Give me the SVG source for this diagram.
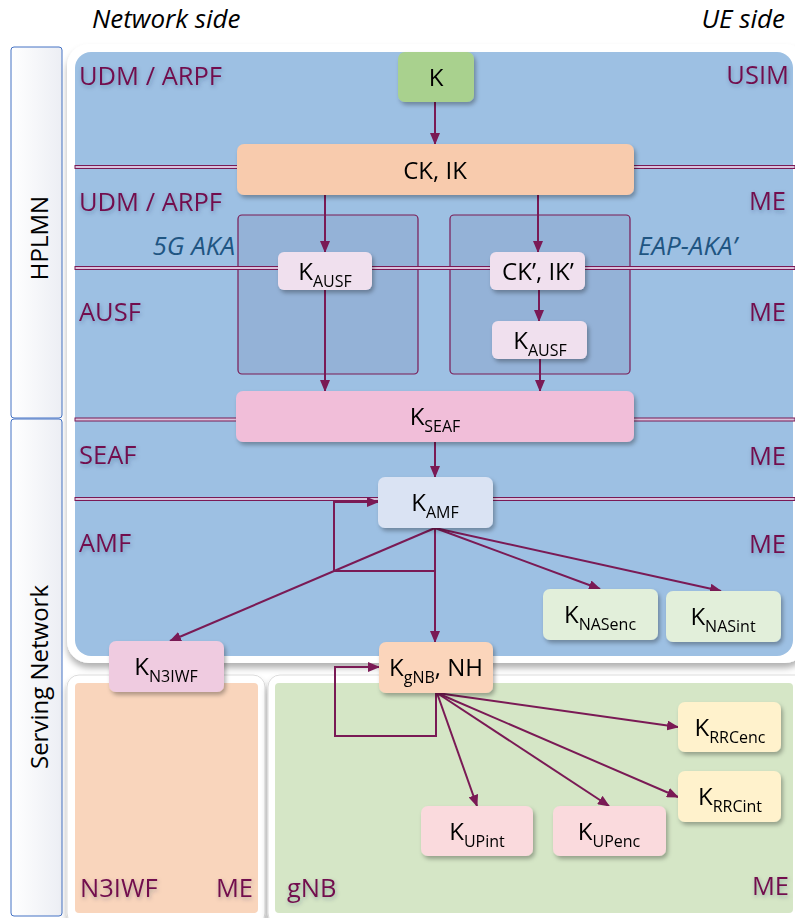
<svg xmlns="http://www.w3.org/2000/svg" width="795" height="918" viewBox="0 0 795 918">
<defs>
<style>
text{font-family:"Open Sans","Liberation Sans",sans-serif;}
.lbl{font-size:25.5px;fill:#72114e;filter:url(#tsh);}
.hdr{font-size:26px;font-style:italic;fill:#000;}
.aka{font-size:26px;font-style:italic;fill:#1f5582;}
.side{font-size:24px;fill:#000;}
.nt{font-size:24px;fill:#000;text-anchor:middle;}
.sub{font-size:16px;}
.sep{fill:#d9c2dc;stroke:#7a1a55;stroke-width:1;}
.node{filter:url(#nsh);}
.con{fill:none;stroke:#7a1a55;stroke-width:2;}
.arr{marker-end:url(#ah);}
.akab{fill:#8ea8cf;fill-opacity:0.6;stroke:#7a1a55;stroke-width:1.2;}
</style>
<marker id="ah" markerUnits="userSpaceOnUse" markerWidth="12" markerHeight="10" refX="11" refY="5" orient="auto">
<path d="M0,0 L12,5 L0,10 z" fill="#7a1a55"/>
</marker>
<filter id="fsh" x="-5%" y="-5%" width="110%" height="115%">
<feDropShadow dx="0" dy="5" stdDeviation="3" flood-color="#000" flood-opacity="0.3"/>
</filter>
<filter id="nsh" x="-10%" y="-15%" width="125%" height="140%">
<feDropShadow dx="2" dy="3" stdDeviation="2" flood-color="#000" flood-opacity="0.3"/>
</filter>
<filter id="tsh" x="-10%" y="-30%" width="120%" height="160%">
<feDropShadow dx="1" dy="2" stdDeviation="2" flood-color="#1a2a50" flood-opacity="0.3"/>
</filter>
<linearGradient id="sg" x1="0" y1="0" x2="1" y2="0">
<stop offset="0" stop-color="#ffffff"/>
<stop offset="1" stop-color="#eceef4"/>
</linearGradient>
</defs>
<rect width="795" height="918" fill="#ffffff"/>

<g id="headers">
<text class="hdr" x="92" y="28">Network side</text>
<text class="hdr" x="785" y="28" text-anchor="end">UE side</text>
</g>

<g id="side-panels">
<rect x="11" y="47" width="51" height="371" rx="3" fill="url(#sg)" stroke="#4472c4" stroke-width="1"/>
<text class="side" transform="translate(48,238) rotate(-90)" text-anchor="middle">HPLMN</text>
<rect x="11" y="419" width="51" height="497" rx="3" fill="url(#sg)" stroke="#4472c4" stroke-width="1"/>
<text class="side" transform="translate(48,677) rotate(-90)" text-anchor="middle">Serving Network</text>
</g>

<g id="regions">
<rect x="67" y="44" width="740" height="619" rx="22" fill="#ffffff" filter="url(#fsh)"/>
<rect x="75" y="52" width="718" height="604" rx="16" fill="#9dc0e3"/>
<rect x="67" y="675" width="198" height="250" rx="12" fill="#ffffff" stroke="#dcdcdc" stroke-width="1" filter="url(#fsh)"/>
<rect x="75" y="683" width="183" height="230" rx="4" fill="#f9d5bc"/>
<rect x="268" y="675" width="540" height="250" rx="12" fill="#ffffff" stroke="#dcdcdc" stroke-width="1" filter="url(#fsh)"/>
<rect x="275" y="683" width="518" height="230" rx="4" fill="#d5e6c6"/>
</g>

<g id="aka-boxes">
<rect class="akab" x="238" y="215" width="180" height="159" rx="4"/>
<rect class="akab" x="450" y="215" width="180" height="159" rx="4"/>
</g>

<g id="separators">
<rect class="sep" x="75" y="165.5" width="720" height="3"/>
<rect class="sep" x="75" y="266.5" width="720" height="3"/>
<rect class="sep" x="75" y="418" width="720" height="3"/>
<rect class="sep" x="75" y="497.5" width="720" height="3"/>
</g>

<g id="labels">
<text class="lbl" x="79" y="85">UDM / ARPF</text>
<text class="lbl" x="789" y="84" text-anchor="end">USIM</text>
<text class="lbl" x="79" y="211">UDM / ARPF</text>
<text class="lbl" x="786" y="210" text-anchor="end">ME</text>
<text class="aka" x="235" y="255" text-anchor="end">5G AKA</text>
<text class="aka" x="638" y="255">EAP-AKA’</text>
<text class="lbl" x="79" y="321">AUSF</text>
<text class="lbl" x="786" y="321" text-anchor="end">ME</text>
<text class="lbl" x="79" y="464">SEAF</text>
<text class="lbl" x="786" y="465" text-anchor="end">ME</text>
<text class="lbl" x="79" y="552">AMF</text>
<text class="lbl" x="786" y="553" text-anchor="end">ME</text>
<text class="lbl" x="80" y="897">N3IWF</text>
<text class="lbl" x="253" y="897" text-anchor="end">ME</text>
<text class="lbl" x="287" y="897">gNB</text>
<text class="lbl" x="789" y="895" text-anchor="end">ME</text>
</g>

<g id="connectors">
<path class="con arr" d="M435,102 V144"/>
<path class="con arr" d="M325,195 V252"/>
<path class="con arr" d="M538,195 V252"/>
<path class="con arr" d="M539,290 V321"/>
<path class="con arr" d="M325,290 V391"/>
<path class="con arr" d="M540,359 V391"/>
<path class="con arr" d="M435,442 V477"/>
<path class="con arr" d="M435,571 H334 V502 H378"/>
<path class="con arr" d="M435,528 V642"/>
<path class="con arr" d="M435,528 L170,641"/>
<path class="con arr" d="M435,528 L600,589"/>
<path class="con arr" d="M435,528 L721,591"/>
<path class="con arr" d="M436,693 V736 H335 V667 H379"/>
<path class="con arr" d="M437,693 L477,806"/>
<path class="con arr" d="M437,693 L609,806"/>
<path class="con arr" d="M437,693 L678,797"/>
<path class="con arr" d="M437,693 L678,727"/>
</g>

<g id="node-K" class="node"><rect x="398" y="52" width="76" height="50" rx="7" fill="#a9d18e"/><text class="nt" x="436" y="86">K</text></g>
<g id="node-CKIK" class="node"><rect x="237" y="144" width="397" height="51" rx="7" fill="#f8cbad"/><text class="nt" x="435" y="179">CK, IK</text></g>
<g id="node-KAUSF-5G" class="node"><rect x="278" y="252" width="94" height="38" rx="6" fill="#f0e0ee"/><text class="nt" x="325" y="280">K<tspan class="sub" dy="7">AUSF</tspan></text></g>
<g id="node-CKIK-prime" class="node"><rect x="490" y="252" width="95" height="38" rx="6" fill="#f0e0ee"/><text class="nt" x="538" y="280">CK’, IK’</text></g>
<g id="node-KAUSF-EAP" class="node"><rect x="492" y="321" width="95" height="38" rx="6" fill="#f0e0ee"/><text class="nt" x="540" y="349">K<tspan class="sub" dy="7">AUSF</tspan></text></g>
<g id="node-KSEAF" class="node"><rect x="236" y="391" width="398" height="51" rx="7" fill="#f1bed9"/><text class="nt" x="435" y="425">K<tspan class="sub" dy="7">SEAF</tspan></text></g>
<g id="node-KAMF" class="node"><rect x="378" y="477" width="115" height="51" rx="7" fill="#dae3f3"/><text class="nt" x="435" y="511">K<tspan class="sub" dy="7">AMF</tspan></text></g>
<g id="node-KNASenc" class="node"><rect x="543" y="589" width="115" height="51" rx="7" fill="#e2efda"/><text class="nt" x="600" y="623">K<tspan class="sub" dy="7">NASenc</tspan></text></g>
<g id="node-KNASint" class="node"><rect x="666" y="591" width="115" height="51" rx="7" fill="#e2efda"/><text class="nt" x="723" y="625">K<tspan class="sub" dy="7">NASint</tspan></text></g>
<g id="node-KN3IWF" class="node"><rect x="109" y="641" width="115" height="51" rx="7" fill="#efcbe0"/><text class="nt" x="166" y="675">K<tspan class="sub" dy="7">N3IWF</tspan></text></g>
<g id="node-KgNB" class="node"><rect x="379" y="642" width="114" height="51" rx="7" fill="#fbd5bb"/><text class="nt" x="436" y="676">K<tspan class="sub" dy="7">gNB</tspan><tspan dy="-7">, NH</tspan></text></g>
<g id="node-KUPint" class="node"><rect x="421" y="806" width="112" height="50" rx="7" fill="#fadadd"/><text class="nt" x="477" y="840">K<tspan class="sub" dy="7">UPint</tspan></text></g>
<g id="node-KUPenc" class="node"><rect x="553" y="806" width="113" height="50" rx="7" fill="#fadadd"/><text class="nt" x="609" y="840">K<tspan class="sub" dy="7">UPenc</tspan></text></g>
<g id="node-KRRCenc" class="node"><rect x="678" y="702" width="103" height="50" rx="7" fill="#fff2cc"/><text class="nt" x="730" y="736">K<tspan class="sub" dy="7">RRCenc</tspan></text></g>
<g id="node-KRRCint" class="node"><rect x="678" y="771" width="103" height="51" rx="7" fill="#fff2cc"/><text class="nt" x="730" y="805">K<tspan class="sub" dy="7">RRCint</tspan></text></g>
</svg>
